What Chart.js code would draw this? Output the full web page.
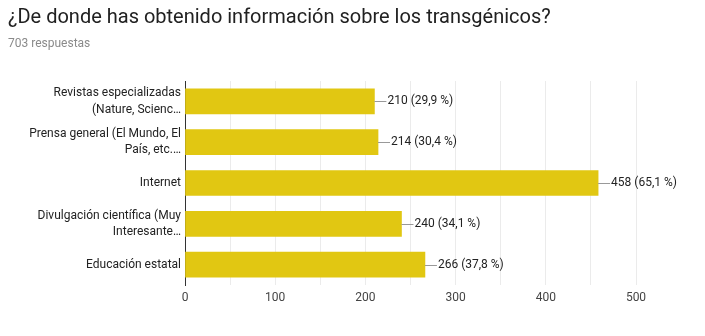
<!DOCTYPE html>
<html>
<head>
<meta charset="utf-8">
<script src="https://cdn.jsdelivr.net/npm/chart.js@4"></script>
<style>
  body { margin: 0; background: #fff; font-family: Roboto, Arial, sans-serif; }
  #wrap { position: relative; width: 705px; height: 336px; }
  #title { position: absolute; left: 8px; top: 4px; font-size: 20px; color: #212121; white-space: nowrap; }
  #sub { position: absolute; left: 8px; top: 36px; font-size: 12px; color: #8a8a8a; }
  canvas { position: absolute; left: 0; top: 0; }
</style>
</head>
<body>
<div id="wrap">
  <canvas id="chart" width="705" height="336"></canvas>
  <div id="title">¿De donde has obtenido información sobre los transgénicos?</div>
  <div id="sub">703 respuestas</div>
</div>
<script>
// categories and answer counts
const categories = [
  ["Revistas especializadas", "(Nature, Scienc…"],
  ["Prensa general (El Mundo, El", "País, etc.…"],
  "Internet",
  ["Divulgación científica (Muy", "Interesante…"],
  "Educación estatal"
];
const counts = [210, 214, 458, 240, 266];
const percents = ["29,9", "30,4", "65,1", "34,1", "37,8"];

// leader line + value label at the end of each bar
const valueLabels = {
  id: "valueLabels",
  afterDatasetsDraw(chart) {
    const ctx = chart.ctx;
    const meta = chart.getDatasetMeta(0);
    ctx.save();
    ctx.font = "12px Roboto, Arial, sans-serif";
    ctx.textBaseline = "middle";
    meta.data.forEach((bar, i) => {
      const x = bar.x, y = bar.y;
      ctx.strokeStyle = "#999999";
      ctx.lineWidth = 1;
      ctx.beginPath();
      ctx.moveTo(x, Math.round(y) + 0.5);
      ctx.lineTo(x + 12, Math.round(y) + 0.5);
      ctx.stroke();
      ctx.fillStyle = "#222222";
      ctx.fillText(counts[i] + " (" + percents[i] + " %)", x + 13, y);
    });
    ctx.restore();
  }
};

new Chart(document.getElementById("chart"), {
  type: "bar",
  data: {
    labels: categories,
    datasets: [{
      data: counts,
      backgroundColor: "#E1C712",
      barThickness: 25
    }]
  },
  options: {
    indexAxis: "y",
    responsive: false,
    animation: false,
    layout: { padding: { top: 81, right: 69, left: 0, bottom: 0 } },
    plugins: { legend: { display: false }, tooltip: { enabled: false } },
    scales: {
      x: {
        min: 0,
        max: 500,
        afterFit(scale) { scale.height = 51; },
        ticks: {
          stepSize: 50,
          autoSkip: false,
          maxRotation: 0,
          padding: 6,
          color: "#444444",
          font: { family: "Roboto, Arial, sans-serif", size: 12 },
          callback: (v) => (v % 100 === 0 ? v : "")
        },
        grid: { color: "#ebebeb", drawTicks: false },
        border: { display: false }
      },
      y: {
        afterFit(scale) { scale.width = 185; },
        ticks: {
          padding: 4,
          color: "#222222",
          font: { family: "Roboto, Arial, sans-serif", size: 12, lineHeight: 1.35 }
        },
        grid: { display: false, drawTicks: false },
        border: { display: true, color: "#333333", width: 1 }
      }
    }
  },
  plugins: [valueLabels]
});
</script>
</body>
</html>
